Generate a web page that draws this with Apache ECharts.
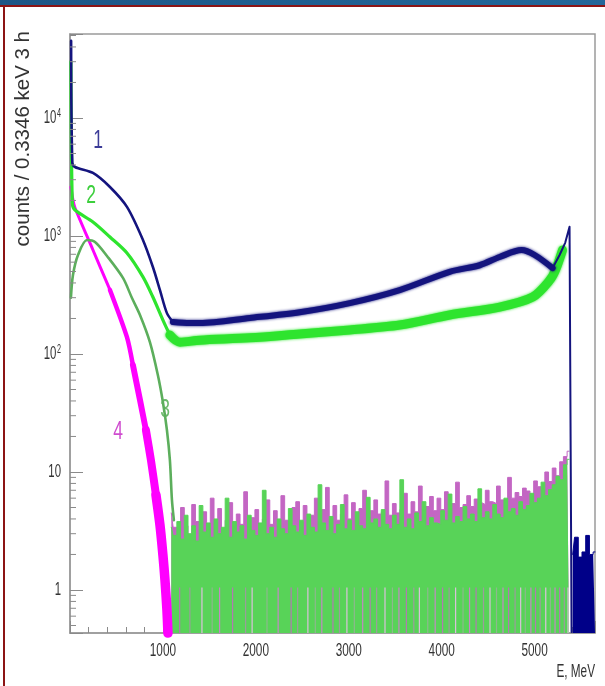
<!DOCTYPE html>
<html>
<head>
<meta charset="utf-8">
<script src="https://cdn.jsdelivr.net/npm/echarts@6/dist/echarts.min.js"></script>
<style>
  html, body { margin: 0; padding: 0; background: #fff; }
  #chart { width: 605px; height: 686px; }
</style>
</head>
<body>
<div id="chart"></div>
<script>
// ---- Spectrum 1 (navy): low-energy part, plateau and end peak ----
const s1HeadE      = [12, 25, 54, 247, 430, 613, 785, 892, 968, 1043, 1108];
const s1HeadCounts = [45000, 4200, 3845, 3420, 2600, 1763, 925, 546, 348, 222, 187];
const s1BodyE      = [1108, 1290, 1398, 1935, 2473, 3011, 3548, 4086, 4409, 4624, 4860, 5000, 5194];
const s1BodyCounts = [187, 183, 183, 202, 226, 270, 348, 497, 565, 664, 760, 690, 535];
const s1TailE      = [5194, 5269, 5330, 5376, 5398];
const s1TailCounts = [535, 690, 880, 1200, 0.44];

// ---- Spectrum 2 (bright green) ----
const s2HeadE      = [10, 25, 54, 247, 430, 613, 785, 892, 1000, 1075];
const s2HeadCounts = [30000, 1900, 1660, 1315, 981, 718, 450, 304, 194, 145];
const s2BodyE      = [1075, 1183, 1398, 1935, 2473, 3011, 3548, 4086, 4624, 4980, 5161, 5226, 5300];
const s2BodyCounts = [145, 126, 131, 137, 148, 160, 176, 214, 250, 304, 420, 518, 760];

// ---- Spectrum 3 (medium green) ----
const s3E      = [10, 32, 86, 183, 269, 398, 570, 667, 753, 860, 946, 1000, 1043, 1075, 1097, 1118];
const s3Counts = [300, 467, 690, 925, 890, 677, 441, 298, 214, 126, 66, 39, 22.7, 12.6, 5.8, 3.9];

// ---- Spectrum 4 (magenta) ----
const s4E      = [10, 32, 54, 247, 430, 613, 677, 753, 817, 871, 925, 968, 1000, 1022, 1043, 1054];
const s4Counts = [2600, 2020, 1727, 761, 349, 139, 80.7, 40.8, 22.7, 12.6, 6.4, 3.56, 1.98, 1.22, 0.68, 0.43];

// ---- Low-count floor above ~1.1 MeV (bins of noiseStepE starting at noiseStartE) ----
const noiseStartE = 1090;
const noiseStepE = 40;
const floorGreen = [
  3.4, 2.9, 3.8, 2.7, 4.3, 3.0, 3.5, 2.6, 5.2, 3.1, 3.7, 2.8,
  4.0, 3.0, 3.4, 6.0, 2.8, 3.8, 3.1, 3.5, 2.7, 4.3, 3.2, 2.9,
  3.7, 7.0, 3.0, 3.4, 2.8, 4.0, 3.3, 3.0, 4.9, 3.5, 3.1, 3.9,
  2.9, 4.4, 3.4, 3.1, 7.8, 3.7, 3.2, 4.2, 3.0, 3.6, 5.3, 3.3,
  3.9, 3.2, 4.6, 3.5, 3.3, 6.1, 3.7, 4.0, 3.4, 4.8, 3.6, 3.3,
  4.3, 3.6, 8.6, 3.4, 4.0, 3.3, 4.5, 3.8, 5.6, 3.5, 4.1, 3.7,
  3.6, 4.7, 3.9, 6.5, 3.7, 4.2, 3.8, 5.1, 4.0, 4.4, 3.8, 7.2,
  4.1, 4.6, 4.0, 5.3, 4.4, 4.1, 6.0, 4.6, 4.9, 4.3, 5.6, 4.8,
  5.2, 6.6, 5.5, 6.0, 8.2, 6.3, 7.1, 7.8, 9.2, 8.6, 11.5, 12.8
];
const floorMagenta = [
  4.5, 3.4, 3.0, 5.0, 3.5, 2.8, 5.3, 3.8, 3.2, 4.6, 3.4, 6.0,
  3.7, 4.9, 3.3, 3.9, 5.5, 3.1, 4.4, 3.6, 6.8, 3.5, 4.1, 4.8,
  3.4, 4.0, 5.8, 3.6, 4.7, 3.5, 6.3, 3.9, 3.7, 5.0, 5.6, 3.8,
  5.2, 3.9, 4.3, 6.0, 3.8, 4.8, 7.4, 4.0, 5.2, 3.9, 4.4, 6.4,
  4.0, 5.5, 4.3, 4.9, 7.0, 4.2, 4.7, 5.8, 4.4, 4.6, 8.4, 4.3,
  5.4, 4.5, 4.8, 6.6, 4.4, 5.6, 4.6, 7.6, 4.8, 5.1, 6.2, 4.7,
  6.0, 4.8, 6.8, 4.9, 5.4, 8.2, 5.0, 5.3, 6.3, 5.1, 5.9, 5.5,
  5.3, 7.0, 5.6, 5.4, 7.6, 5.8, 5.5, 9.0, 6.0, 6.7, 6.2, 7.3,
  6.9, 6.3, 8.4, 7.5, 7.0, 10.0, 8.3, 10.8, 9.3, 12.2, 13.5, 15.0
];
// empty bins in the floor region (energies, keV)
const emptyBinsE = [1180, 1290, 1420, 1530, 1610, 1750, 1890, 1960, 2120, 2240, 2380, 2450,
  2560, 2640, 2710, 2830, 2900, 2980, 3060, 3150, 3230, 3300, 3390, 3470, 3540, 3620, 3700,
  3760, 3850, 3930, 4010, 4080, 4150, 4230, 4300, 4370, 4450, 4520, 4590, 4660, 4720, 4790,
  4850, 4900, 4960, 5010, 5060, 5120, 5170, 5220, 5270, 5320, 5360];
const floorNavyStartE = 5410;
const floorNavy = [2.0, 2.8, 1.9, 2.1, 2.9, 2.0, 2.1];

// ---- Axes ----
const xMin = 0, xMax = 5650, xInterval = 1000;
const xTickValues = [1000, 2000, 3000, 4000, 5000];
const yMin = 0.432, yMax = 51500;
const yDecades = [1, 10, 100, 1000, 10000];
const yDecadeLabels = ['1', '10', '10{s|2}', '10{s|3}', '10{s|4}'];

const COL_NAVY = '#14147e';
const COL_GREEN2 = '#2ee42e';
const COL_GREEN3 = '#5cae5c';
const COL_FLOOR = '#58d358';
const COL_MAG = '#ff00ff';
const COL_MAG_FLOOR = '#c366c3';
const STRIPE_COLORS = ['#b27ab2', '#9c9c9c', '#dcc0dc', '#8db88d', '#c488c4'];
const LABEL_FONT = 'Liberation Sans, Arial';

const zip = (xs, ys) => xs.map((x, i) => [x, ys[i]]);
const binned = (start, step, ys) => ys.map((y, i) => [start + i * step, y]);

// minor tick positions of the log axis (2..9 within each decade)
const yMinorTicks = [];
for (let d = 0.1; d <= yMax; d *= 10) {
  for (let m = 2; m <= 9; m++) {
    const v = m * d;
    if (v > yMin && v < yMax) yMinorTicks.push([0, v]);
  }
}

function lineSeries(name, data, color, width, z, extra) {
  return Object.assign({
    name, type: 'line', data, z,
    symbol: 'none', showSymbol: false, silent: true, animation: false,
    lineStyle: { color, width, cap: 'round', join: 'round' }
  }, extra || {});
}

function floorSeries(name, data, color, z) {
  return lineSeries(name, data, color, 1, z, {
    step: 'middle',
    areaStyle: { color, opacity: 1, origin: 'start' }
  });
}

const staticGraphics = [
  { id: 'barTop', type: 'rect', left: 0, top: 0, shape: { width: 605, height: 5 },
    style: { fill: new echarts.graphic.LinearGradient(0, 0, 1, 0, [
      { offset: 0, color: '#1c5686' }, { offset: 1, color: '#22679a' }]) } },
  { id: 'lineTop', type: 'rect', left: 0, top: 5, shape: { width: 605, height: 2 }, style: { fill: '#8c1414' } },
  { id: 'lineLeft', type: 'rect', left: 3, top: 5, shape: { width: 2, height: 681 }, style: { fill: '#8c1414' } },
  { id: 'yTitle', type: 'text', x: 23, y: 31, rotation: Math.PI / 2,
    style: { text: 'counts / 0.3346 keV 3 h', fill: '#333', fontSize: 20.5,
             fontFamily: LABEL_FONT, textAlign: 'right', textVerticalAlign: 'middle' } },
  { id: 'tag1', type: 'text', x: 98, y: 141, scaleX: 0.7, style: { text: '1', fill: '#3c3c98', fontSize: 25,
    fontFamily: LABEL_FONT, textAlign: 'center', textVerticalAlign: 'middle' } },
  { id: 'tag2', type: 'text', x: 91, y: 196, scaleX: 0.7, style: { text: '2', fill: '#3ccf3c', fontSize: 25,
    fontFamily: LABEL_FONT, textAlign: 'center', textVerticalAlign: 'middle' } },
  { id: 'tag3', type: 'text', x: 165, y: 410, scaleX: 0.7, style: { text: '3', fill: '#6cba6c', fontSize: 25,
    fontFamily: LABEL_FONT, textAlign: 'center', textVerticalAlign: 'middle' } },
  { id: 'tag4', type: 'text', x: 118, y: 432, scaleX: 0.7, style: { text: '4', fill: '#cf4ccf', fontSize: 25,
    fontFamily: LABEL_FONT, textAlign: 'center', textVerticalAlign: 'middle' } },
  { id: 'xTitle', type: 'text', x: 595, y: 672, scaleX: 0.62,
    style: { text: 'E, MeV', fill: '#333', fontSize: 19, fontFamily: LABEL_FONT,
             textAlign: 'right', textVerticalAlign: 'middle' } }
];

const chart = echarts.init(document.getElementById('chart'), null, { renderer: 'canvas' });
chart.setOption({
  animation: false,
  backgroundColor: '#ffffff',
  grid: {
    left: 70, right: 10, top: 34, bottom: 53,
    show: true, borderColor: '#9a9a9a', borderWidth: 1.5, backgroundColor: 'transparent'
  },
  xAxis: {
    type: 'value', min: xMin, max: xMax, interval: xInterval,
    axisLine: { show: true, onZero: false, lineStyle: { color: '#9a9a9a', width: 1.5 } },
    axisTick: { show: true, inside: true, length: 12, lineStyle: { color: '#8a8a8a' } },
    minorTick: { show: true, splitNumber: 5, length: 6, lineStyle: { color: '#8a8a8a' } },
    splitLine: { show: false },
    // tick labels are drawn as condensed text further below
    axisLabel: { show: false }
  },
  yAxis: {
    type: 'log', logBase: 10, min: yMin, max: yMax,
    axisLine: { show: true, onZero: false, lineStyle: { color: '#9a9a9a', width: 1.5 } },
    axisTick: { show: true, inside: true, length: 13, lineStyle: { color: '#8a8a8a' } },
    splitLine: { show: false },
    axisLabel: { show: false }
  },
  series: [
    // low-count floors (filled down to the axis start)
    floorSeries('floor4', binned(noiseStartE, noiseStepE, floorMagenta), COL_MAG_FLOOR, 2),
    floorSeries('floor3', binned(noiseStartE, noiseStepE, floorGreen), COL_FLOOR, 3),
    floorSeries('floor1', binned(floorNavyStartE, noiseStepE, floorNavy), '#000088', 3),
    // empty bins: histogram drops to the bottom of the frame
    {
      type: 'custom', silent: true, z: 4,
      data: emptyBinsE.map(e => [e, 1.05]),
      renderItem: (params, api) => {
        const top = api.coord([api.value(0), api.value(1)]);
        const bottom = api.coord([api.value(0), yMin]);
        return { type: 'line', shape: { x1: top[0], y1: top[1], x2: bottom[0], y2: bottom[1] },
                 style: { stroke: STRIPE_COLORS[params.dataIndex % STRIPE_COLORS.length], lineWidth: 1.2 } };
      }
    },

    // spectrum 4 (band widens as counts drop)
    lineSeries('s4a', zip(s4E.slice(0, 5), s4Counts.slice(0, 5)), COL_MAG, 3, 5, { smooth: 0.25 }),
    lineSeries('s4b', zip(s4E.slice(4, 7), s4Counts.slice(4, 7)), COL_MAG, 4.5, 5, { smooth: 0.25 }),
    lineSeries('s4c', zip(s4E.slice(6, 9), s4Counts.slice(6, 9)), COL_MAG, 6, 5, { smooth: 0.25 }),
    lineSeries('s4d', zip(s4E.slice(8, 11), s4Counts.slice(8, 11)), COL_MAG, 8, 5, { smooth: 0.25 }),
    lineSeries('s4e', zip(s4E.slice(10), s4Counts.slice(10)), COL_MAG, 9.5, 5, { smooth: 0.25 }),

    // spectrum 3
    lineSeries('s3', zip(s3E, s3Counts), COL_GREEN3, 2.6, 6, { smooth: 0.3 }),

    // spectrum 2
    lineSeries('s2body', zip(s2BodyE, s2BodyCounts), COL_GREEN2, 9, 7,
      { smooth: 0.3, lineStyle: { color: COL_GREEN2, width: 9, shadowBlur: 3, shadowColor: COL_GREEN2, join: 'round', cap: 'round' } }),
    lineSeries('s2head', zip(s2HeadE, s2HeadCounts), COL_GREEN2, 3.2, 7, { smooth: 0.3 }),

    // spectrum 1
    lineSeries('s1body', zip(s1BodyE, s1BodyCounts), COL_NAVY, 6, 8,
      { smooth: 0.3, lineStyle: { color: COL_NAVY, width: 6, shadowBlur: 3, shadowColor: COL_NAVY, join: 'round', cap: 'round' } }),
    lineSeries('s1head', zip(s1HeadE, s1HeadCounts), COL_NAVY, 2.6, 8, { smooth: 0.3 }),
    lineSeries('s1tail', zip(s1TailE, s1TailCounts), COL_NAVY, 2, 8),

    // minor ticks of the log axis
    {
      type: 'custom', silent: true, z: 20, clip: false,
      data: yMinorTicks,
      renderItem: (params, api) => {
        const p = api.coord([api.value(0), api.value(1)]);
        return { type: 'line', shape: { x1: p[0], y1: p[1], x2: p[0] + 6, y2: p[1] },
                 style: { stroke: '#8a8a8a', lineWidth: 1 } };
      }
    }
  ],
  graphic: staticGraphics
});

// condensed tick labels placed through the axis scales
const tickLabelGraphics = [];
xTickValues.forEach((v, i) => {
  const px = chart.convertToPixel({ xAxisIndex: 0 }, v);
  tickLabelGraphics.push({
    id: 'xl' + i, type: 'text', x: px, y: 641, scaleX: 0.62,
    style: { text: String(v), fill: '#333', fontSize: 19, fontFamily: LABEL_FONT,
             textAlign: 'center', textVerticalAlign: 'top' }
  });
});
yDecades.forEach((v, i) => {
  const py = chart.convertToPixel({ yAxisIndex: 0 }, v);
  tickLabelGraphics.push({
    id: 'yl' + i, type: 'text', x: 61, y: py, scaleX: 0.6,
    style: { text: yDecadeLabels[i], fill: '#333', fontSize: 19, fontFamily: LABEL_FONT,
             textAlign: 'right', textVerticalAlign: 'middle',
             rich: { s: { fontSize: 12, verticalAlign: 'top', padding: [0, 0, 9, 1],
                          fill: '#333', fontFamily: LABEL_FONT } } }
  });
});
chart.setOption({ graphic: staticGraphics.concat(tickLabelGraphics) });
</script>
</body>
</html>
